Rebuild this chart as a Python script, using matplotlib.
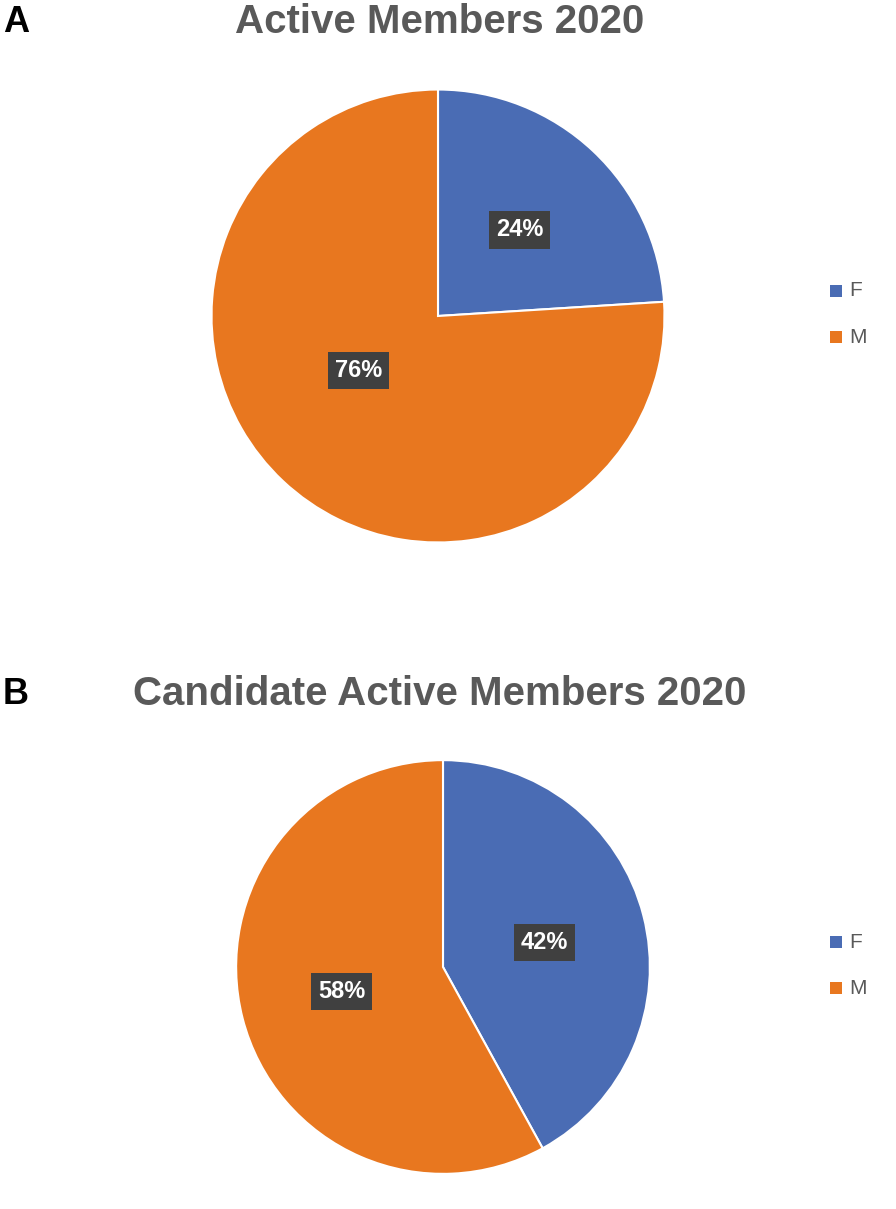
import matplotlib
matplotlib.use('Agg')
import matplotlib.pyplot as plt
from matplotlib.patches import Rectangle

plt.rcParams['font.family'] = ['Liberation Sans', 'DejaVu Sans']

categories = ['F', 'M']
active = [24, 76]
candidate = [42, 58]
colors = ['#4A6CB4', '#E8771F']

W, H = 896, 1209
fig = plt.figure(figsize=(W / 100, H / 100), dpi=100)


def pie_panel(values, title, letter, cx, cy, r, label_pos, title_y, leg_y):
    ax = fig.add_axes([(cx - r) / W, 1 - (cy + r) / H, 2 * r / W, 2 * r / H])
    ax.pie(values, colors=colors, startangle=90, counterclock=False,
           wedgeprops=dict(linewidth=1.5, edgecolor='white'))
    ax.set_xlim(-1.02, 1.02)
    ax.set_ylim(-1.02, 1.02)
    ax.set_aspect('equal')
    ax.axis('off')
    for v, (x, y) in zip(values, label_pos):
        ax.text(x, y, '%d%%' % v, ha='center', va='center', color='white',
                fontsize=17, fontweight='bold',
                bbox=dict(boxstyle='square,pad=0.3', fc='#404040', ec='none'))
    fig.text(440 / W, 1 - title_y / H, title, ha='center', va='center',
             fontsize=29, fontweight='bold', color='#595959')
    fig.text(3 / W, 1 - title_y / H, letter, ha='left', va='center',
             fontsize=26, fontweight='bold', color='black')
    for i, c in enumerate(categories):
        y = leg_y + i * 46
        fig.patches.append(Rectangle((830 / W, 1 - (y + 6) / H), 12 / W, 12 / H,
                                     transform=fig.transFigure, fc=colors[i], ec='none'))
        fig.text(849 / W, 1 - y / H, c, ha='left', va='center',
                 fontsize=15, color='#595959')


pie_panel(active, 'Active Members 2020', 'A', 438, 316, 231,
          [(0.36, 0.38), (-0.35, -0.24)], 22, 291)
pie_panel(candidate, 'Candidate Active Members 2020', 'B', 443, 967, 211,
          [(0.49, 0.12), (-0.49, -0.12)], 694, 942)

fig.savefig('out.png', dpi=100)
